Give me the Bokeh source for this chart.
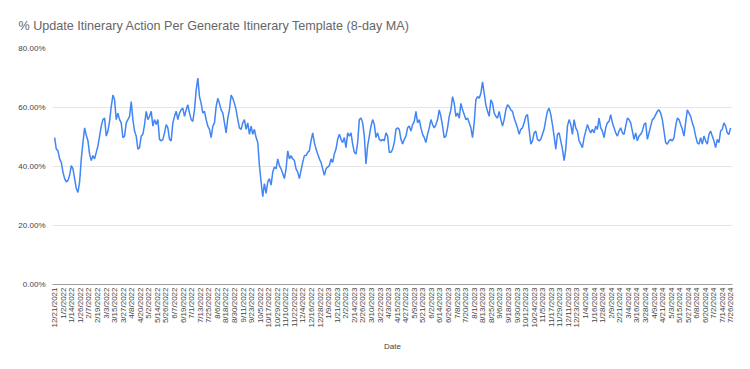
import math
from datetime import datetime

import pandas as pd
from bokeh.plotting import figure
from bokeh.models import Range1d, FixedTicker, PrintfTickFormatter
from bokeh.embed import file_html
from bokeh.resources import INLINE

# ---------------- data ----------------
title_text = "% Update Itinerary Action Per Generate Itinerary Template (8-day MA)"
x_title = "Date"
start_date = "12/21/2021"
sample_step = "56h"  # values every 2 1/3 days

# % update itinerary (8-day MA)
values = [
    49.8,
    45.9, 45.3, 42.6, 41.4, 38.1, 35.9, 34.8, 35.3, 37.0, 40.3,
    39.2, 35.9, 32.6, 31.2, 34.8, 42.6, 48.1, 53.1, 50.6, 48.7,
    44.2, 42.0, 43.7, 42.6, 44.8, 47.0, 50.3, 53.7, 55.9, 56.4,
    50.3, 52.0, 55.3, 60.3, 64.2, 62.6, 55.9, 58.1, 55.9, 54.8,
    49.8, 50.3, 54.8, 55.9, 57.0, 62.0, 55.9, 52.0, 50.3, 45.9,
    46.4, 50.3, 50.9, 54.2, 58.7, 55.9, 57.0, 58.7, 53.7, 55.9,
    54.2, 55.9, 49.2, 48.7, 49.2, 51.4, 54.2, 53.1, 49.2, 48.7,
    54.8, 57.0, 58.7, 55.9, 58.1, 59.2, 59.8, 57.0, 59.2, 60.9,
    58.1, 55.9, 55.3, 59.2, 65.9, 70.0, 63.7, 61.4, 58.1, 58.7,
    55.9, 53.7, 52.6, 49.8, 53.7, 54.8, 60.3, 63.1, 61.4, 59.2,
    58.1, 54.8, 51.4,
    56.4, 59.2, 64.2, 63.1, 61.4, 59.2, 55.9, 53.1, 52.6, 54.8,
    55.9, 52.6, 54.8, 50.9, 53.7, 50.9, 52.6, 49.8, 48.1, 40.3,
    34.8, 29.8, 34.2, 30.9, 34.8, 35.9, 33.7, 38.1, 39.8, 39.2,
    42.6, 40.3, 39.2, 37.6, 35.9, 39.2, 45.3, 42.6, 43.7, 42.6,
    42.0, 39.2, 38.1, 35.9, 38.7, 41.4, 43.7, 43.7, 44.8, 45.3,
    48.7, 51.4, 48.1, 45.9, 44.2, 42.6, 41.4, 39.2, 37.0, 39.2,
    39.8, 40.3, 42.6, 41.4, 44.2, 45.9, 49.2, 50.9, 49.2, 48.1,
    49.8, 46.4, 51.4, 50.3, 51.4, 47.6, 44.8, 44.2, 48.1, 55.9,
    56.4, 54.8, 50.3, 40.9, 47.0, 50.3, 53.7, 55.9, 54.2, 49.8,
    51.4, 49.2, 48.7, 49.2, 48.7, 51.4, 50.3, 44.8, 44.8, 45.9,
    48.1, 52.6, 53.1,
    52.6, 49.2, 47.6, 49.2, 50.3, 53.1, 53.7, 52.0, 54.2, 55.3,
    58.7, 54.8, 55.9, 53.1, 50.9, 49.8, 48.1, 50.9, 53.1, 55.9,
    54.2, 53.1, 54.2, 55.9, 59.2, 57.0, 53.7, 49.8, 50.3, 53.1,
    57.0, 59.2, 63.7, 61.4, 57.0, 58.1, 56.4, 61.4, 59.2, 57.6,
    55.9, 56.4, 54.8, 53.1, 49.8, 54.8, 62.6, 63.7, 63.1, 64.8,
    68.7, 64.8, 60.9, 58.7, 57.0, 62.6, 61.4, 58.1, 57.0, 56.4,
    58.7, 55.9, 53.7, 55.9, 59.2, 60.9, 60.3, 59.2, 58.7, 56.4,
    54.8, 53.1, 50.9, 52.6, 53.1, 54.8, 57.0, 57.6, 52.6, 47.6,
    48.7, 51.4, 52.0, 49.2, 48.7, 49.2, 50.9, 52.6, 55.9, 58.7,
    59.8, 57.6, 54.2, 50.3, 45.9, 50.9, 51.4, 48.7, 45.9, 42.0,
    45.9, 53.7, 55.9,
    54.2, 50.9, 55.9, 53.1, 52.0, 48.7, 47.6, 46.4, 49.8, 52.0,
    54.2, 52.6, 51.4, 52.6, 51.4, 53.7, 52.6, 56.4, 53.1, 52.0,
    49.8, 53.1, 54.8, 55.3, 57.6, 54.8, 53.1, 51.4, 50.3, 52.0,
    53.1, 51.4, 50.9, 53.7, 56.4, 55.9, 54.8, 52.0, 49.2, 51.4,
    48.7, 50.3, 50.9, 52.0, 54.2, 54.8, 49.2, 51.4, 53.7, 55.9,
    56.4, 57.6, 58.7, 59.2, 58.1, 55.9, 52.0, 48.1, 47.6, 48.7,
    49.2, 48.7, 49.8, 53.7, 56.4, 55.9, 54.2, 52.6, 50.3, 54.8,
    59.2, 58.1, 57.0, 54.8, 53.1, 50.3, 48.1, 47.6, 49.8, 47.6,
    50.3, 48.7, 47.6, 50.9, 52.0, 50.3, 48.7, 46.4, 49.2, 48.1,
    52.0, 52.6, 54.8, 53.7, 51.4, 50.9, 53.1,
]

tick_labels = [
    "12/21/2021", "1/2/2022", "1/14/2022", "1/26/2022", "2/7/2022", "2/19/2022",
    "3/3/2022", "3/15/2022", "3/27/2022", "4/8/2022", "4/20/2022", "5/2/2022",
    "5/14/2022", "5/26/2022", "6/7/2022", "6/19/2022", "7/1/2022", "7/13/2022",
    "7/25/2022", "8/6/2022", "8/18/2022", "8/30/2022", "9/11/2022", "9/23/2022",
    "10/5/2022", "10/17/2022", "10/29/2022", "11/10/2022", "11/22/2022", "12/4/2022",
    "12/16/2022", "12/28/2022", "1/9/2023", "1/21/2023", "2/2/2023", "2/14/2023",
    "2/26/2023", "3/10/2023", "3/22/2023", "4/3/2023", "4/15/2023", "4/27/2023",
    "5/9/2023", "5/21/2023", "6/2/2023", "6/14/2023", "6/26/2023", "7/8/2023",
    "7/20/2023", "8/1/2023", "8/13/2023", "8/25/2023", "9/6/2023", "9/18/2023",
    "9/30/2023", "10/12/2023", "10/24/2023", "11/5/2023", "11/17/2023", "11/29/2023",
    "12/11/2023", "12/23/2023", "1/4/2024", "1/16/2024", "1/28/2024", "2/9/2024",
    "2/21/2024", "3/4/2024", "3/16/2024", "3/28/2024", "4/9/2024", "4/21/2024",
    "5/3/2024", "5/15/2024", "5/27/2024", "6/8/2024", "6/20/2024", "7/2/2024",
    "7/14/2024", "7/26/2024",
]
y_ticks = [0, 20, 40, 60, 80]

# ---------------- build ----------------
start = pd.Timestamp(datetime.strptime(start_date, "%m/%d/%Y"))
dates = pd.date_range(start, periods=len(values), freq=sample_step)
x_days = ((dates - start) / pd.Timedelta(days=1)).tolist()
tick_days = [(datetime.strptime(t, "%m/%d/%Y") - start.to_pydatetime()).days for t in tick_labels]

FONT = "Liberation Sans"

p = figure(
    width=734, height=353,
    output_backend="svg", toolbar_location=None,
    x_range=Range1d(-3, 950), y_range=Range1d(0, 80),
    min_border_left=52, min_border_right=2, min_border_top=48, min_border_bottom=65,
    title=title_text,
)
p.title.text_font = FONT
p.title.text_font_size = "12.6px"
p.title.text_font_style = "normal"
p.title.text_color = "#666666"
p.title.align = "left"
p.title.offset = -34
p.title.standoff = 32

p.outline_line_color = None
p.background_fill_color = "white"
p.border_fill_color = "white"

p.line(x_days, values, line_color="#4285f4", line_width=1.5)

# x axis
xa = p.xaxis[0]
xa.ticker = FixedTicker(ticks=tick_days)
xa.major_label_overrides = {d: l for d, l in zip(tick_days, tick_labels)}
xa.major_label_orientation = math.pi / 2
xa.major_label_text_font = FONT
xa.major_label_text_font_size = "8px"
xa.major_label_text_color = "#444444"
xa.major_label_standoff = 3
xa.major_tick_line_color = None
xa.minor_tick_line_color = None
xa.major_tick_out = 0
xa.major_tick_in = 0
xa.axis_line_color = "#9e9e9e"
xa.axis_label = x_title
xa.axis_label_text_font = FONT
xa.axis_label_text_font_size = "8px"
xa.axis_label_text_font_style = "normal"
xa.axis_label_text_color = "#444444"
xa.axis_label_standoff = 11
p.xgrid.visible = False

# y axis
ya = p.yaxis[0]
ya.ticker = FixedTicker(ticks=y_ticks)
ya.formatter = PrintfTickFormatter(format="%.2f%%")
ya.major_label_text_font = FONT
ya.major_label_text_font_size = "8px"
ya.major_label_text_color = "#444444"
ya.major_label_standoff = 7
ya.axis_line_color = None
ya.major_tick_line_color = None
ya.minor_tick_line_color = None
ya.major_tick_out = 0
ya.major_tick_in = 0
p.ygrid.grid_line_color = "#e6e6e6"
p.ygrid.grid_line_width = 1

open("out.html", "w").write(file_html(p, INLINE))
